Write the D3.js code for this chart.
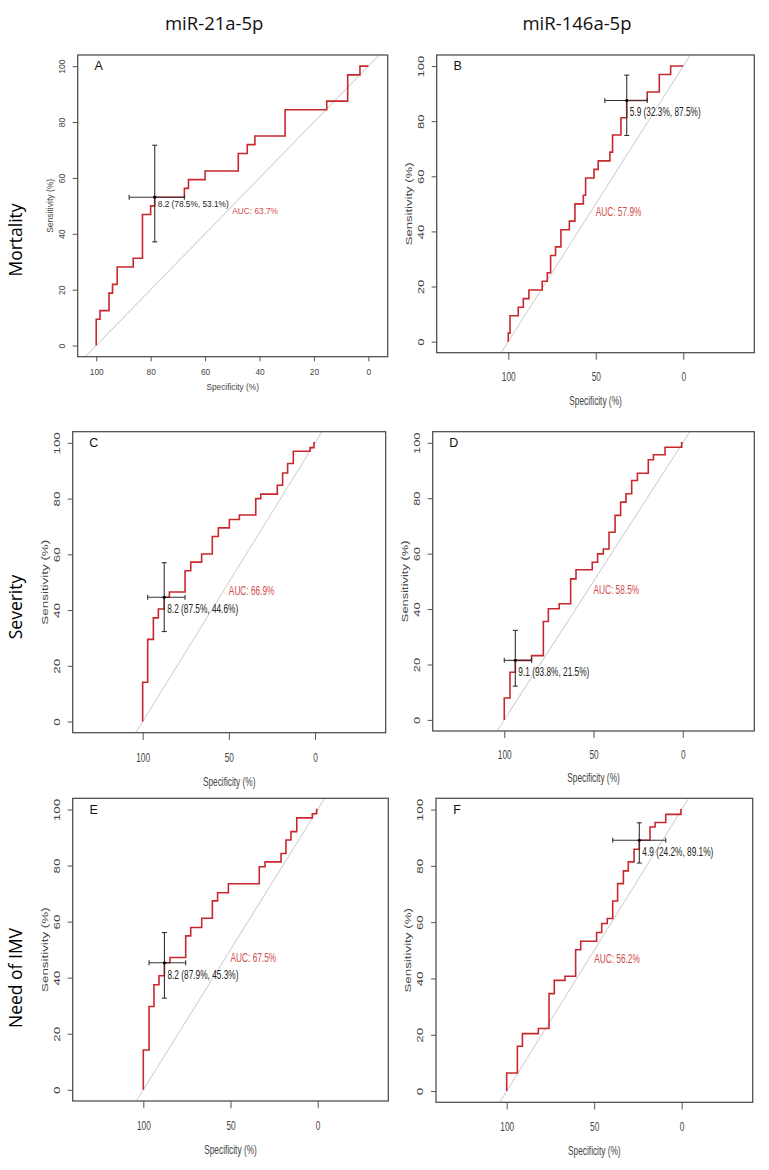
<!DOCTYPE html>
<html>
<head>
<meta charset="utf-8">
<script src="https://cdn.jsdelivr.net/npm/d3@7"></script>
<style>
  body { margin: 0; background: #fff; }
</style>
</head>
<body>
<div id="chart"></div>
<script>
var width = 769;
var height = 1170;

var columnTitles = ["miR-21a-5p", "miR-146a-5p"];
var rowLabels = ["Mortality", "Severity", "Need of IMV"];
var panelLetters = ["A", "B", "C", "D", "E", "F"];

// ROC step vertices (specificity %, sensitivity %)
var specA = [100, 100, 98.6, 95.3, 94.0, 92.3, 86.4, 83.0, 80.0, 78.5, 67.6, 66.1, 60.0, 47.8, 44.5, 41.7, 30.6, 15.3, 7.6, 3.1, 0];
var sensA = [0, 9.4, 12.5, 18.75, 21.9, 28.1, 31.25, 46.9, 50.0, 53.1, 56.25, 59.4, 62.5, 68.75, 71.9, 75.0, 84.4, 87.5, 96.9, 100, 100];

var specB = [100, 100, 99.0, 94.3, 91.4, 88.2, 80.6, 77.7, 75.8, 73.0, 69.9, 65.1, 61.9, 57.1, 55.8, 51.0, 48.6, 41.9, 40.4, 35.6, 32.3, 20.6, 13.7, 7.2, 0];
var sensB = [0, 3.1, 9.4, 12.5, 15.6, 18.75, 21.9, 25.0, 31.25, 34.4, 40.6, 43.75, 50.0, 53.1, 59.4, 62.5, 65.6, 68.75, 75.0, 81.25, 87.5, 90.6, 96.9, 100, 100];

var specC = [100, 100, 97.1, 93.8, 90.9, 87.5, 84.5, 75.4, 72.1, 65.8, 59.6, 56.1, 49.7, 43.9, 34.4, 31.5, 21.9, 18.8, 15.9, 12.6, 2.9, 0.6, 0];
var sensC = [0, 14.1, 29.5, 37.2, 40.4, 44.6, 46.5, 54.1, 57.2, 60.1, 66.4, 69.5, 72.5, 74.1, 80.0, 81.6, 84.8, 89.2, 92.6, 97.0, 98.3, 100, 100];

var specD = [100, 100, 96.8, 93.8, 84.7, 78.1, 75.3, 69.2, 62.8, 59.8, 50.7, 47.7, 44.5, 41.3, 37.9, 34.8, 31.8, 28.6, 25.4, 19.3, 16.4, 9.9, 0.6, 0];
var sensD = [0, 7.9, 17.2, 21.5, 23.2, 35.5, 40.1, 41.9, 50.9, 54.2, 56.9, 59.9, 61.7, 67.7, 73.8, 78.6, 81.6, 86.4, 89.0, 93.9, 95.7, 98.4, 100, 100];

var specE = [100, 100, 96.7, 93.9, 91.0, 87.9, 84.7, 75.7, 72.8, 66.5, 60.4, 57.4, 51.2, 33.5, 30.2, 21.0, 18.2, 15.3, 12.0, 3.1, 0.6, 0];
var sensE = [0, 14.2, 29.7, 37.5, 40.7, 45.3, 47.2, 54.9, 57.9, 61.2, 67.4, 70.3, 73.5, 79.6, 81.3, 84.3, 89.1, 92.1, 97.0, 98.5, 100, 100];

var specF = [100, 100, 93.9, 91.0, 81.9, 75.8, 72.8, 66.7, 60.6, 57.7, 48.6, 45.7, 42.5, 39.4, 36.6, 33.3, 30.5, 27.2, 24.2, 18.1, 15.2, 9.1, 0.4, 0];
var sensF = [0, 6.4, 15.9, 20.4, 22.2, 34.6, 39.3, 40.8, 50.2, 53.2, 56.3, 59.5, 61.3, 67.5, 73.7, 78.2, 81.4, 85.9, 89.1, 93.8, 95.4, 98.3, 100, 100];

var curveSpecs = [specA, specB, specC, specD, specE, specF];
var curveSens = [sensA, sensB, sensC, sensD, sensE, sensF];

var aucValues = [63.7, 57.9, 66.9, 58.5, 67.5, 56.2];

// best threshold and its confidence intervals
var thrCut = [8.2, 5.9, 8.2, 9.1, 8.2, 4.9];
var thrSpec = [78.5, 32.3, 87.5, 93.8, 87.9, 24.2];
var thrSens = [53.1, 87.5, 44.6, 21.5, 45.3, 89.1];
var ciSpecHi = [87.9, 44.8, 97.1, 100, 96.7, 39.4];
var ciSpecLo = [67.6, 20.6, 75.4, 84.7, 75.7, 9.1];
var ciSensLo = [37.1, 74.8, 32.3, 12.2, 32.7, 81.0];
var ciSensHi = [71.7, 96.7, 57.0, 32.3, 56.1, 95.3];

var xTicksFine = [100, 80, 60, 40, 20, 0];
var xTicksWide = [100, 50, 0];
var yTicks = [0, 20, 40, 60, 80, 100];

// plot boxes as they sit in the figure
var panels = [
  { left: 77.7, top: 55, w: 310, h: 301.7, xdom: [106.8, -7.1], ticks: xTicksFine },
  { left: 436.7, top: 55, w: 317.6, h: 297.7, xdom: [140.9, -40.6], ticks: xTicksWide },
  { left: 72.7, top: 431.7, w: 313, h: 301, xdom: [140.6, -41.0], ticks: xTicksWide },
  { left: 432.7, top: 431.7, w: 321.6, h: 299.3, xdom: [140.1, -40.1], ticks: xTicksWide },
  { left: 72.7, top: 798.3, w: 315.6, h: 302.7, xdom: [140.5, -40.5], ticks: xTicksWide },
  { left: 436, top: 798.3, w: 316.7, h: 304, xdom: [140.4, -40.6], ticks: xTicksWide }
];
var rowLabelY = [240, 607, 978];

var rFont = "'Liberation Sans', Arial, sans-serif";
var officeFont = "'Open Sans', 'Noto Sans', sans-serif";
var axisColor = "#555";
var textColor = "#444";
var rocColor = "#c8282d";
var aucColor = "#d24b4b";

var svg = d3.select("#chart").append("svg")
  .attr("width", width)
  .attr("height", height)
  .attr("viewBox", "0 0 " + width + " " + height);

svg.append("rect").attr("width", width).attr("height", height).attr("fill", "#fff");

function drawPanel(i) {
  var p = panels[i];
  var x = d3.scaleLinear().domain(p.xdom).range([p.left, p.left + p.w]);
  var y = d3.scaleLinear().domain([-4, 104]).range([p.top + p.h, p.top]);
  // the source figure was stretched vertically, so text is too
  var k = (y(0) - y(100)) / (x(0) - x(100));

  var g = svg.append("g");

  var clipId = "clip" + i;
  g.append("clipPath").attr("id", clipId)
    .append("rect")
    .attr("x", p.left).attr("y", p.top)
    .attr("width", p.w).attr("height", p.h);

  var inner = g.append("g").attr("clip-path", "url(#" + clipId + ")");

  inner.append("line")
    .attr("x1", x(p.xdom[0])).attr("y1", y(100 - p.xdom[0]))
    .attr("x2", x(p.xdom[1])).attr("y2", y(100 - p.xdom[1]))
    .attr("stroke", "#d4d4d4")
    .attr("stroke-width", 1.1);

  var line = d3.line()
    .x(function(d) { return x(d[0]); })
    .y(function(d) { return y(d[1]); })
    .curve(d3.curveStepAfter);

  inner.append("path")
    .attr("d", line(d3.zip(curveSpecs[i], curveSens[i])))
    .attr("fill", "none")
    .attr("stroke", rocColor)
    .attr("stroke-width", 1.6);

  // confidence bars at the threshold
  var px = x(thrSpec[i]), py = y(thrSens[i]);
  var bars = g.append("g").attr("stroke", "#333").attr("stroke-width", 1.1);
  var cap = 2.5;
  bars.append("line").attr("x1", x(ciSpecHi[i])).attr("x2", x(ciSpecLo[i])).attr("y1", py).attr("y2", py);
  bars.append("line").attr("x1", x(ciSpecHi[i])).attr("x2", x(ciSpecHi[i])).attr("y1", py - cap).attr("y2", py + cap);
  bars.append("line").attr("x1", x(ciSpecLo[i])).attr("x2", x(ciSpecLo[i])).attr("y1", py - cap).attr("y2", py + cap);
  bars.append("line").attr("x1", px).attr("x2", px).attr("y1", y(ciSensLo[i])).attr("y2", y(ciSensHi[i]));
  bars.append("line").attr("x1", px - cap).attr("x2", px + cap).attr("y1", y(ciSensLo[i])).attr("y2", y(ciSensLo[i]));
  bars.append("line").attr("x1", px - cap).attr("x2", px + cap).attr("y1", y(ciSensHi[i])).attr("y2", y(ciSensHi[i]));
  g.append("circle").attr("cx", px).attr("cy", py).attr("r", 1.6).attr("fill", "#000");

  g.append("g")
    .attr("transform", "translate(" + (px + 3) + "," + py + ") scale(1," + k + ")")
    .append("text")
    .attr("y", 7)
    .attr("dy", "0.35em")
    .attr("font-family", rFont)
    .attr("font-size", 8.3)
    .attr("fill", "#222")
    .text(thrCut[i].toFixed(1) + " (" + thrSpec[i].toFixed(1) + "%, " + thrSens[i].toFixed(1) + "%)");

  g.append("g")
    .attr("transform", "translate(" + x(50) + "," + y(50) + ") scale(1," + k + ")")
    .append("text")
    .attr("y", 5)
    .attr("dy", "0.35em")
    .attr("font-family", rFont)
    .attr("font-size", 8.3)
    .attr("fill", aucColor)
    .text("AUC: " + aucValues[i].toFixed(1) + "%");

  // axes
  var xa = g.append("g")
    .attr("transform", "translate(0," + (p.top + p.h) + ")")
    .call(d3.axisBottom(x).tickValues(p.ticks).tickSize(4.5 * k).tickSizeOuter(0).tickFormat(d3.format("d")));
  xa.attr("font-family", rFont).attr("font-size", 8.3);
  xa.select(".domain").remove();
  xa.selectAll(".tick line").attr("stroke", axisColor);
  xa.selectAll(".tick text")
    .attr("y", 15.2)
    .attr("dy", "0.35em")
    .attr("fill", textColor)
    .attr("transform", "scale(1," + k + ")");

  var ya = g.append("g")
    .attr("transform", "translate(" + p.left + ",0)")
    .call(d3.axisLeft(y).tickValues(yTicks).tickSize(5).tickSizeOuter(0));
  ya.attr("font-family", rFont).attr("font-size", 8.3);
  ya.select(".domain").remove();
  ya.selectAll(".tick line").attr("stroke", axisColor);
  ya.selectAll(".tick text")
    .attr("x", null)
    .attr("dy", "0.35em")
    .attr("text-anchor", "middle")
    .attr("fill", textColor)
    .attr("transform", "translate(-15.5,0) rotate(-90) scale(" + k + ",1)");

  g.append("g")
    .attr("transform", "translate(" + (p.left + p.w / 2) + "," + (p.top + p.h) + ") scale(1," + k + ")")
    .append("text")
    .attr("y", 30)
    .attr("dy", "0.35em")
    .attr("text-anchor", "middle")
    .attr("font-family", rFont)
    .attr("font-size", 8.3)
    .attr("fill", textColor)
    .text("Specificity (%)");

  g.append("text")
    .attr("transform", "translate(" + (p.left - 28) + "," + (p.top + p.h / 2) + ") rotate(-90) scale(" + k + ",1)")
    .attr("dy", "0.35em")
    .attr("text-anchor", "middle")
    .attr("font-family", rFont)
    .attr("font-size", 8.3)
    .attr("fill", textColor)
    .text("Sensitivity (%)");

  g.append("rect")
    .attr("x", p.left).attr("y", p.top)
    .attr("width", p.w).attr("height", p.h)
    .attr("fill", "none")
    .attr("stroke", "#444")
    .attr("stroke-width", 1.2);

  g.append("text")
    .attr("x", p.left + 21)
    .attr("y", p.top + 11)
    .attr("dy", "0.35em")
    .attr("text-anchor", "middle")
    .attr("font-family", rFont)
    .attr("font-size", 12.5)
    .attr("fill", "#111")
    .text(panelLetters[i]);
}

for (var i = 0; i < panels.length; i++) {
  drawPanel(i);
}

columnTitles.forEach(function(t, c) {
  var p = panels[c];
  svg.append("text")
    .attr("x", p.left + p.w / 2 - 18.5)
    .attr("y", 30)
    .attr("text-anchor", "middle")
    .attr("font-family", officeFont)
    .attr("font-size", 18.5)
    .attr("fill", "#111")
    .text(t);
});

rowLabels.forEach(function(t, r) {
  svg.append("text")
    .attr("transform", "translate(16," + rowLabelY[r] + ") rotate(-90)")
    .attr("dy", "0.35em")
    .attr("text-anchor", "middle")
    .attr("font-family", officeFont)
    .attr("font-size", 17.5)
    .attr("fill", "#000")
    .text(t);
});
</script>
</body>
</html>
